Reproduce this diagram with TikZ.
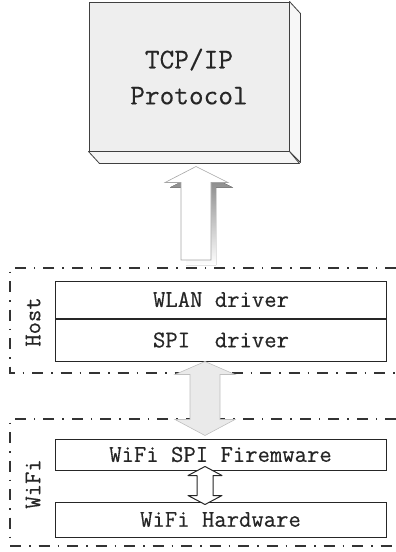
\documentclass[tikz,border=0pt]{standalone}
\usepackage{fontspec}
\usetikzlibrary{positioning}
\usetikzlibrary{calc}

\newfontfamily\stackfont[FakeBold=0.4]{Latin Modern Mono}

\definecolor{tcpfill}{HTML}{EEEEEE}
\definecolor{busfill}{HTML}{EAEAEA}
\definecolor{shade}{HTML}{9A9A9A}

\newcommand{\uparrowpath}{(upTip) -- ($(upTip)+(32,16)$) -- ($(upTip)+(15,16)$) -- ($(upEnd)+(15,0)$)
    -- ($(upEnd)+(-15,0)$) -- ($(upTip)+(-15,16)$) -- ($(upTip)+(-31,16)$) -- cycle}

\begin{document}
\begin{tikzpicture}[
        x=1pt, y=-1pt,
        tcpbox/.style={rectangle, draw=black!75, fill=tcpfill, line width=1pt, minimum width=200pt, minimum height=149pt,
            align=center, font=\stackfont\fontsize{28.5}{36}\selectfont, text=black!85},
        layerbox/.style={rectangle, draw=black!85, fill=white, line width=1pt, inner sep=0pt, minimum width=331pt,
            font=\stackfont\fontsize{24}{24}\selectfont, text=black!85},
        groupline/.style={draw=black!80, line width=1.2pt, dash pattern=on 11pt off 8pt on 1.5pt off 8pt},
        grouplabel/.style={rotate=90, font=\stackfont\fontsize{24}{24}\selectfont, text=black!85}
    ]
    \useasboundingbox (0,0) rectangle (396,552);

    % protocol stack block
    \node [tcpbox] (tcp) at (189,76.5) {TCP/IP\\Protocol};
    \filldraw [fill=black!3, draw=black!75, line width=0.8pt, line join=round]
        (tcp.north east) -- ++(11,12) -- ++(0,149) -- (tcp.south east) -- cycle;
    \filldraw [fill=black!4, draw=black!75, line width=0.8pt, line join=round]
        (tcp.south west) -- ++(11,12) -- ++(200,0) -- (tcp.south east) -- cycle;

    % host group
    \draw [groupline] (396,268) -- (10,268) -- (10,373) -- (396,373);
    \node [grouplabel] (host) at (33,322) {Host};
    \node [layerbox, minimum height=37pt] (wlan) at (221,299.5) {WLAN driver};
    \node [layerbox, minimum height=42pt] (spi) [below=0pt of wlan] {SPI\ \ driver};

    % wifi group
    \draw [groupline] (396,419) -- (10,419) -- (10,546) -- (396,546);
    \node [grouplabel] (wifi) at (33,484) {WiFi};
    \node [layerbox, minimum height=31pt] (fw) at (220.5,454.5) {WiFi SPI Firemware};
    \node [layerbox, minimum height=35pt] (hw) at (220.5,519.5) {WiFi Hardware};

    % up arrow into the protocol block
    \coordinate (upTip) at ($(tcp.south)+(7,15)$);
    \coordinate (upEnd) at (196,260);
    \begin{scope}[transform canvas={xshift=5pt, yshift=-5pt}]
        \fill [shade] \uparrowpath;
    \end{scope}
    \filldraw [fill=white, draw=black!35, line width=0.6pt] \uparrowpath;

    % spi bus arrow
    \coordinate (busTop) at ($(spi.south)+(-16,0)$);
    \coordinate (busBot) at ($(fw.north)+(-15.5,-3)$);
    \filldraw [fill=busfill, draw=black!25, line width=0.6pt]
        (busTop) -- ($(busTop)+(30,13)$) -- ($(busTop)+(15,13)$) -- ($(busBot)+(15,-16)$) -- ($(busBot)+(30,-16)$)
        -- (busBot) -- ($(busBot)+(-30,-16)$) -- ($(busBot)+(-15,-16)$) -- ($(busTop)+(-15,13)$)
        -- ($(busTop)+(-30,13)$) -- cycle;

    % firmware to hardware arrow
    \coordinate (hwTop) at ($(fw.south)+(-15.5,-4)$);
    \coordinate (hwBot) at ($(hw.north)+(-15.5,3)$);
    \filldraw [fill=white, draw=black!85, line width=1pt, line join=round]
        (hwTop) -- ($(hwTop)+(17,9)$) -- ($(hwTop)+(8,9)$) -- ($(hwBot)+(8,-9)$) -- ($(hwBot)+(17,-9)$)
        -- (hwBot) -- ($(hwBot)+(-17,-9)$) -- ($(hwBot)+(-8,-9)$) -- ($(hwTop)+(-8,9)$)
        -- ($(hwTop)+(-17,9)$) -- cycle;
\end{tikzpicture}
\end{document}
